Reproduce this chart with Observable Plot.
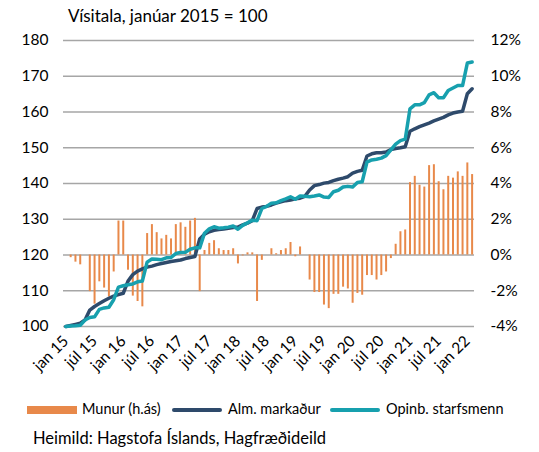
<!DOCTYPE html>
<html><head><meta charset="utf-8">
<script src="https://cdn.jsdelivr.net/npm/d3@7"></script>
<script src="https://cdn.jsdelivr.net/npm/@observablehq/plot@0.6"></script>
<style>
body{margin:0;background:#fff;font-family:Lato,"Open Sans",sans-serif;color:#000;}
#wrap{position:relative;width:539px;height:452px;overflow:hidden;background:#fff;}
#title{position:absolute;left:68px;top:5px;font-size:17px;white-space:nowrap;}
.leg{position:absolute;top:400px;font-size:14.5px;white-space:nowrap;line-height:18px;}
.sw{position:absolute;}
#source{position:absolute;left:33px;top:428px;font-size:16.5px;white-space:nowrap;}
</style></head><body>
<div id="wrap">
<div id="chart"></div>
<div id="title">Vísitala, janúar 2015 = 100</div>
<div id="legend"></div>
<div id="source">Heimild: Hagstofa Íslands, Hagfræðideild</div>
</div>
<script>
// Months jan 2015 .. feb 2022 (index 0..85)
const xTickLabels = ["jan 15","júl 15","jan 16","júl 16","jan 17","júl 17","jan 18","júl 18","jan 19","júl 19","jan 20","júl 20","jan 21","júl 21","jan 22"];
const leftTicks = [100,110,120,130,140,150,160,170,180];
const rightTicks = [-4,-2,0,2,4,6,8,10,12];

const seriesNames = ["Munur (h.ás)","Alm. markaður","Opinb. starfsmenn"];
const colors = ["#E8894A","#2E4A6B","#17A0AE"];

// Alm. markaður (vinstri ás)
const alm = [100,100.3,100.6,100.9,101.8,104.6,105.6,106.4,107.2,107.9,108.5,108.9,109.3,
112.7,114.5,115.5,116.1,116.6,116.9,117.3,117.6,117.9,118.2,118.4,118.6,119.0,119.3,119.6,
124.5,125.8,126.5,126.9,127.1,127.3,127.5,127.7,127.8,128.4,128.9,129.6,
133.0,133.4,133.6,134.0,134.5,134.9,135.2,135.4,135.7,135.9,
136.4,138.2,139.4,139.7,140.1,140.3,140.8,141.2,141.5,141.9,142.9,143.4,143.7,
147.7,148.3,148.6,148.6,148.8,149.5,149.8,150.0,150.3,
154.6,155.3,155.9,156.4,156.9,157.5,158.0,158.5,159.2,159.7,160.0,160.2,165.1,166.5];

// Opinb. starfsmenn (vinstri ás)
const opinb = [100,100.15,100.2,100.35,101.8,102.5,102.7,104.8,105.2,105.4,107.5,111.0,111.4,
111.7,111.9,112.5,112.7,118.0,118.9,118.8,118.7,119.2,119.3,120.4,120.7,120.8,121.6,122.0,
122.0,126.1,127.3,127.9,127.5,127.6,127.8,128.1,127.2,128.3,129.0,129.75,
129.6,133.0,133.6,134.5,134.6,135.2,135.7,136.3,135.6,136.5,
136.4,136.3,136.5,136.8,136.2,136.1,137.7,138.1,139.0,139.2,139.0,140.3,140.5,
146.0,146.6,146.8,147.1,147.8,149.4,151.0,152.0,152.4,
160.9,162.0,162.0,162.6,164.8,165.4,164.0,164.0,166.0,166.7,167.4,167.4,173.7,174.0];

// Munur, % (hægri ás)
const munur = [0,-0.15,-0.4,-0.55,0,-2.05,-2.75,-1.5,-1.85,-2.35,-0.95,1.9,1.9,
-0.85,-2.3,-2.6,-2.9,1.2,1.7,1.25,0.9,1.1,0.9,1.7,1.8,1.55,1.9,2.05,
-2.05,0.25,0.65,0.8,0.35,0.25,0.25,0.35,-0.5,-0.05,0.12,0.12,
-2.6,-0.3,0,0.35,0.07,0.25,0.35,0.7,-0.1,0.45,
0,-1.4,-2.1,-2.1,-2.8,-3.0,-2.2,-2.2,-1.8,-1.9,-2.7,-2.15,-2.25,
-1.15,-1.15,-1.4,-1.15,-0.95,-0.2,0.6,1.3,1.4,
4.05,4.4,3.9,3.8,5.0,5.05,4.1,3.65,4.4,4.3,4.65,4.4,5.15,4.5];

const data = alm.map((a,i)=>({i, alm:a, opinb:opinb[i], munur:munur[i]}));
// right axis (%) mapped onto left scale: 0% = 120, 12% = 180
const pctToLeft = p => 120 + p*5;
const xTickPos = xTickLabels.map((_,k)=>k*6);

const chart = Plot.plot({
  width:539, height:392,
  marginLeft:63, marginRight:65, marginTop:40, marginBottom:66,
  style:{fontFamily:"Lato, 'Open Sans', sans-serif", fontSize:"15px", color:"#000", background:"#fff", overflow:"visible"},
  x:{domain:[-0.5,85.5]},
  y:{domain:[100,180]},
  marks:[
    Plot.gridY(leftTicks,{stroke:"#A6A6A6", strokeOpacity:1, strokeWidth:1.3}),
    Plot.ruleX(data,{x:"i", y1:pctToLeft(0), y2:d=>pctToLeft(d.munur), stroke:colors[0], strokeWidth:2}),
    Plot.line(data,{x:"i", y:"alm", stroke:colors[1], strokeWidth:3.5, strokeLinejoin:"round"}),
    Plot.line(data,{x:"i", y:"opinb", stroke:colors[2], strokeWidth:3.5, strokeLinejoin:"round"}),
    Plot.axisY(leftTicks,{anchor:"left", tickSize:0, tickPadding:15, label:null, fontSize:15.5}),
    Plot.axisY(rightTicks.map(pctToLeft),{anchor:"right", tickSize:0, tickPadding:16, label:null, fontSize:15.5, tickFormat:d=>((d-120)/5)+"%"}),
    Plot.axisX(xTickPos,{tickRotate:-45, tickSize:0, tickPadding:12, label:null, fontSize:15.5, tickFormat:d=>xTickLabels[d/6]})
  ]
});
document.getElementById("chart").appendChild(chart);

// legend
const leg = document.getElementById("legend");
const legPos = [{sx:27,tx:82},{sx:172,tx:228},{sx:330,tx:386}];
seriesNames.forEach((name,k)=>{
  const p = legPos[k];
  const sw = document.createElementNS("http://www.w3.org/2000/svg","svg");
  sw.setAttribute("class","sw");
  sw.setAttribute("width",52); sw.setAttribute("height",12);
  sw.style.left = p.sx+"px"; sw.style.top = "404px";
  if(k===0){
    sw.innerHTML = `<rect x="0" y="2" width="50" height="8" fill="${colors[0]}"/>`;
  } else {
    sw.innerHTML = `<line x1="2" y1="6" x2="48" y2="6" stroke="${colors[k]}" stroke-width="4" stroke-linecap="round"/>`;
  }
  leg.appendChild(sw);
  const t = document.createElement("div");
  t.className="leg"; t.style.left = p.tx+"px"; t.textContent = name;
  leg.appendChild(t);
});
</script>
</body></html>
